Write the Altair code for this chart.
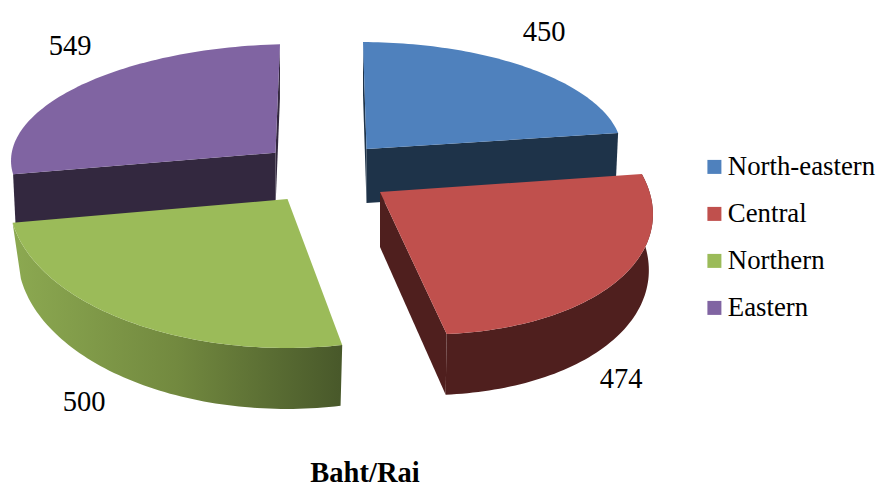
import math
import altair as alt

REGIONS = ["North-eastern", "Central", "Northern", "Eastern"]
VALUES = [450, 474, 500, 549]
TOP_COLORS = ["#4f81bd", "#c0504d", "#9bbb59", "#8064a2"]
CUT_COLORS = ["#1e3349", "#4f1f1e", "#5d7035", "#33283f"]
TITLE = ["Baht/Rai"]

# Projection of each exploded slice onto the page (3-D look of the original).
APEX = [(366.5, 149), (380, 192), (287.5, 199), (275.5, 152.7)]
U = [(254.5, -1.3), (266.3, 1.8), (279.2, 2.6), (265.8, -2.4)]
V = [(-3.5, -107), (-14.3, -144.6), (0.5, -148.4), (4.5, -108.4)]
BULGE = [-0.01, 0.05, 0.01, -0.02]
DEPTH = [54, 55, 55, 54]
SCALE_X = [0.99, 0.985, 0.97, 0.99]
SCALE_Y = [1.0, 1.04, 1.04, 1.0]
LABEL_LON = [544, 621, 84, 70]
LABEL_LAT = [32, 379, 402, 46]

total = sum(VALUES)
edges = [0.0]
for v in VALUES:
    edges.append(edges[-1] + v / total * 2 * math.pi)


def top_pt(i, t):
    s = (t - edges[i]) / (edges[i + 1] - edges[i])
    r = 1 + BULGE[i] * math.sin(math.pi * s)
    ax, ay = APEX[i]
    return (ax + r * (math.sin(t) * U[i][0] + math.cos(t) * V[i][0]),
            ay + r * (math.sin(t) * U[i][1] + math.cos(t) * V[i][1]))


def low(i, p):
    ax, ay = APEX[i]
    return (ax + (p[0] - ax) * SCALE_X[i], ay + DEPTH[i] + (p[1] - ay) * SCALE_Y[i])


def arc(i, n=72):
    return [top_pt(i, edges[i] + (edges[i + 1] - edges[i]) * k / n) for k in range(n + 1)]


def feature(ring, **props):
    ring = [list(p) for p in ring]
    ring.append(ring[0])
    return {"type": "Feature", "properties": props,
            "geometry": {"type": "Polygon", "coordinates": [ring]}}


def top(i):
    return feature([APEX[i]] + arc(i), slice=REGIONS[i])


def rim(i):
    a = arc(i)
    return feature(a + [low(i, p) for p in reversed(a)])


def cut(i, end):
    p = arc(i)[-1 if end else 0]
    return feature([APEX[i], p, low(i, p), low(i, APEX[i])])


PROJ = dict(type="identity", scale=1, translate=[-8, -8])


def flat(features, fill):
    return alt.Chart(alt.Data(values=features)).mark_geoshape(
        fill=fill, strokeWidth=0, stroke="transparent").project(**PROJ)


legend = alt.Legend(
    title=None, orient="none", legendX=693, legendY=145.5, symbolType="square",
    symbolSize=196, symbolStrokeWidth=0, symbolOpacity=1, labelFont="Liberation Serif",
    labelFontSize=26.8, labelColor="#000000", labelOffset=0, rowPadding=19, padding=0,
    labelLimit=300,
)
color = alt.Color("properties.slice:N",
                  scale=alt.Scale(domain=REGIONS, range=TOP_COLORS), legend=legend)


def tops(idx):
    return alt.Chart(alt.Data(values=[top(i) for i in idx])).mark_geoshape(
        strokeWidth=0, stroke="transparent").encode(color=color).project(**PROJ)


green_rim = alt.LinearGradient(
    gradient="linear", x1=0, x2=1, y1=0, y2=0,
    stops=[alt.GradientStop(color="#8ca951", offset=0),
           alt.GradientStop(color="#72893f", offset=0.5),
           alt.GradientStop(color="#48582a", offset=1)])

labels = alt.Chart(alt.Data(values=[
    {"t": str(v), "lon": a, "lat": b} for v, a, b in zip(VALUES, LABEL_LON, LABEL_LAT)
])).mark_text(font="Liberation Serif", fontSize=28.5, color="#000000",
              align="center", baseline="middle").encode(
    longitude="lon:Q", latitude="lat:Q", text="t:N").project(**PROJ)

title = alt.Chart(alt.Data(values=[{"t": TITLE[0], "lon": 365, "lat": 482}])).mark_text(
    font="Liberation Serif", fontSize=28.5, fontWeight="bold", color="#000000",
    align="center", baseline="alphabetic").encode(
    longitude="lon:Q", latitude="lat:Q", text="t:N").project(**PROJ)

chart = alt.layer(
    flat([cut(0, True), cut(0, False)], CUT_COLORS[0]),
    flat([cut(3, False), cut(3, True)], CUT_COLORS[3]),
    tops([0, 3]),
    flat([rim(2)], green_rim),
    flat([rim(1), cut(1, True)], CUT_COLORS[1]),
    tops([2, 1]),
    labels,
    title,
).properties(
    width=869, height=475, padding=0,
    autosize=alt.AutoSizeParams(type="none"),
).configure_view(stroke=None)

chart.save("out.html", embed_options={"renderer": "svg", "actions": False})
